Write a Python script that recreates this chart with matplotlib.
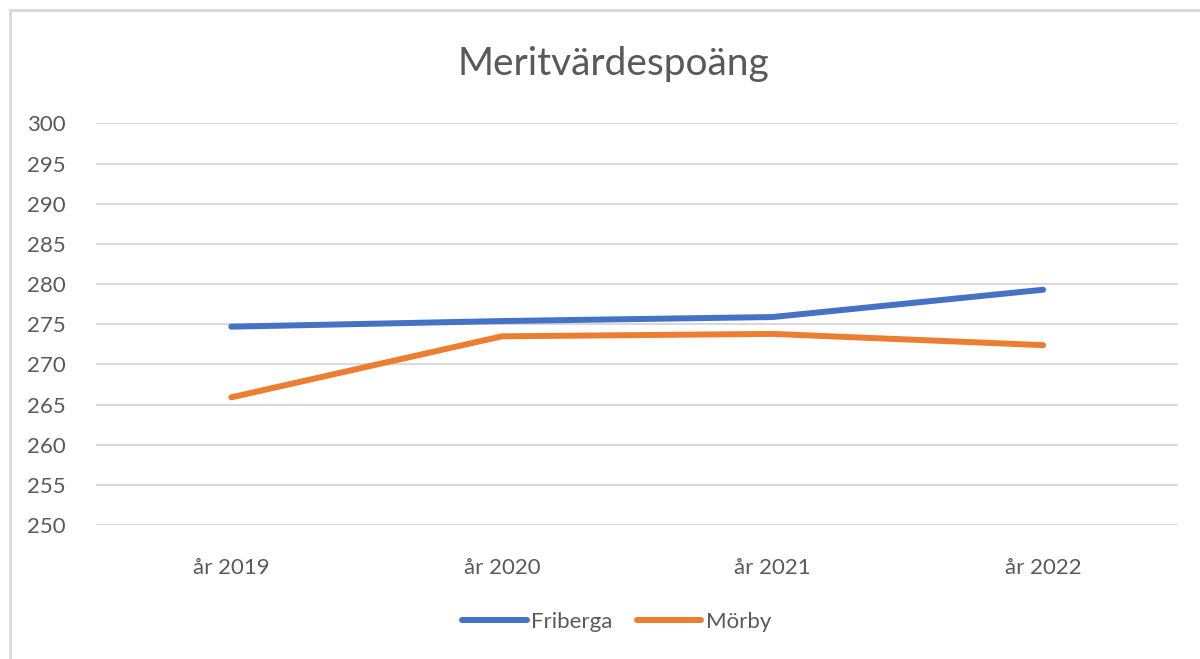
import matplotlib
matplotlib.use("Agg")
import matplotlib.pyplot as plt
from matplotlib.lines import Line2D

# data
years = ["år 2019", "år 2020", "år 2021", "år 2022"]
friberga = [274.7, 275.4, 275.9, 279.3]
morby = [265.9, 273.5, 273.8, 272.4]
y_ticks = list(range(250, 301, 5))

BLUE = "#4472C4"
ORANGE = "#ED7D31"
GRID = "#D9D9D9"
TEXT = "#595959"

plt.rcParams["font.family"] = ["Lato", "DejaVu Sans"]

fig = plt.figure(figsize=(12, 6.59), dpi=100)
ax = fig.add_axes([0.08, 0.2033, 0.902, 0.6093])

x = range(len(years))
ax.plot(x, friberga, color=BLUE, lw=4.3, solid_capstyle="round",
        solid_joinstyle="round", label="Friberga")
ax.plot(x, morby, color=ORANGE, lw=4.3, solid_capstyle="round",
        solid_joinstyle="round", label="Mörby")

ax.set_xlim(-0.5, len(years) - 0.5)
ax.set_ylim(250, 300)
ax.set_yticks(y_ticks)
ax.set_xticks(list(x))
ax.set_xticklabels(years)
ax.tick_params(axis="both", length=0, labelsize=16, colors=TEXT)
ax.tick_params(axis="y", pad=22)
ax.tick_params(axis="x", pad=24)
ax.grid(axis="y", color=GRID, lw=1.5)
ax.set_axisbelow(True)
for s in ax.spines.values():
    s.set_visible(False)

fig.text(0.511, 0.903, "Meritvärdespoäng", ha="center", va="center",
         fontsize=28, color=TEXT)

ax.legend(loc="center", bbox_to_anchor=(0.481, -0.242), ncol=2, frameon=False,
          fontsize=16, labelcolor=TEXT, handlelength=2.9, handletextpad=0.2,
          columnspacing=1.1)

# light frame, only left and top edges are visible in the reference
fig.add_artist(Line2D([10 / 1200, 10 / 1200], [0, 1 - 10 / 659],
                      transform=fig.transFigure, color=GRID, lw=2))
fig.add_artist(Line2D([10 / 1200, 1], [1 - 10 / 659, 1 - 10 / 659],
                      transform=fig.transFigure, color=GRID, lw=2))

fig.savefig("out.png", dpi=100)
